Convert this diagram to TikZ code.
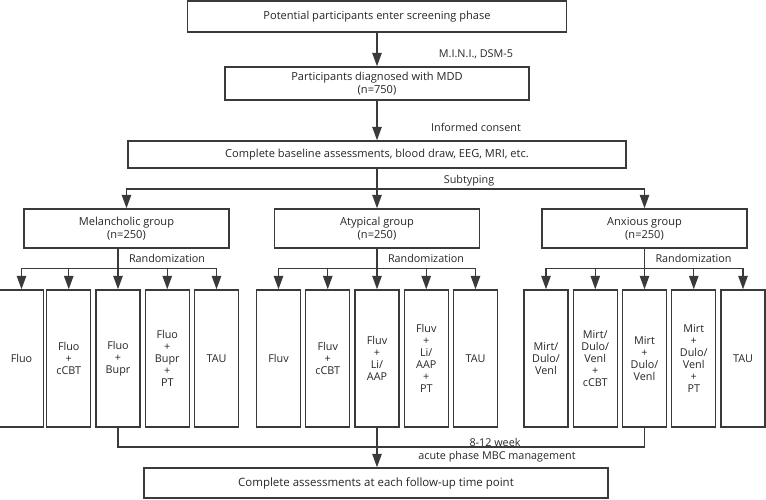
\documentclass[tikz,border=0pt]{standalone}
\usepackage{fontspec}
\setmainfont{Open Sans}
\usetikzlibrary{arrows.meta, positioning, calc}
\definecolor{linegray}{HTML}{3A3A3A}
\tikzstyle{box} = [rectangle, draw=linegray, line width=1.1pt, fill=white, align=center, inner sep=0pt, text=black!85, font=\fontsize{8.3}{9.75}\selectfont]
\tikzstyle{groupbox} = [box, minimum width=153.75pt, minimum height=29.25pt]
\tikzstyle{armbox} = [box, minimum width=33pt, minimum height=102.75pt, font=\fontsize{8.1}{9}\selectfont]
\tikzstyle{link} = [line width=1.1pt, draw=linegray]
\tikzstyle{arrow} = [link, -{Triangle[length=10pt,width=7pt]}]
\tikzstyle{lbl} = [inner sep=0pt, text=black!85, font=\fontsize{8.1}{9}\selectfont]

\begin{document}
\begin{tikzpicture}[x=0.75pt, y=-0.75pt]
\useasboundingbox (0,0) rectangle (766,499);
% main column
\node (screen)[box, minimum width=284pt, minimum height=23.5pt] at (377,16.5) {Potential participants enter screening phase};
\node (mdd)[box, minimum width=228pt, minimum height=24.75pt] at (377,83.5) {Participants diagnosed with MDD\\(n=750)};
\node (base)[box, minimum width=373.5pt, minimum height=20.25pt] at (377,154.5) {Complete baseline assessments, blood draw, EEG, MRI, etc.};
\draw [arrow] (screen) -- (mdd);
\draw [arrow] (mdd) -- (base);
\node (mini)[lbl] at (476,54) {M.I.N.I., DSM-5};
\node (consent)[lbl] at (476,127) {Informed consent};

% subgroups
\node (mel)[groupbox] at (126.5,228.5) {Melancholic group\\(n=250)};
\node (atyp)[groupbox] at (377,228.5) {Atypical group\\(n=250)};
\node (anx)[groupbox] at (644.5,228.5) {Anxious group\\(n=250)};
\coordinate (sub) at (377,189);
\draw [arrow] (base) -- (atyp);
\draw [arrow] (sub) -| (mel);
\draw [arrow] (sub) -| (anx);
\node (subtxt)[lbl] at (469,181) {Subtyping};

% melancholic arms
\node (m1)[armbox] at (21.5,358.5) {Fluo};
\node (m2)[armbox] at (68.75,358.5) {Fluo\\+\\cCBT};
\node (m3)[armbox] at (118,358.5) {Fluo\\+\\Bupr};
\node (m4)[armbox] at (167.25,358.5) {Fluo\\+\\Bupr\\+\\PT};
\node (m5)[armbox] at (216.5,358.5) {TAU};
% atypical arms
\node (a1)[armbox] at (278.5,358.5) {Fluv};
\node (a2)[armbox] at (327.75,358.5) {Fluv\\+\\cCBT};
\node (a3)[armbox] at (377,358.5) {Fluv\\+\\Li/\\AAP};
\node (a4)[armbox] at (426.25,358.5) {Fluv\\+\\Li/\\AAP\\+\\PT};
\node (a5)[armbox] at (475.5,358.5) {TAU};
% anxious arms
\node (x1)[armbox] at (546,358.5) {Mirt/\\Dulo/\\Venl};
\node (x2)[armbox] at (595.25,358.5) {Mirt/\\Dulo/\\Venl\\+\\cCBT};
\node (x3)[armbox] at (644.5,358.5) {Mirt\\+\\Dulo/\\Venl};
\node (x4)[armbox] at (693.75,358.5) {Mirt\\+\\Dulo/\\Venl\\+\\PT};
\node (x5)[armbox] at (743,358.5) {TAU};

% randomization
\foreach \grp/\arm in {mel/m, atyp/a, anx/x} {
  \coordinate (r\arm) at ($(\arm3.north)+(0,-21)$);
  \draw [arrow] (\arm3 |- \grp.south) -- (\arm3);
  \foreach \i in {1,2,4,5}
    \draw [arrow] (r\arm) -| (\arm\i);
  \node [lbl] at ($(r\arm)+(49,-10)$) {Randomization};
}

% follow-up
\node (final)[box, minimum width=348pt, minimum height=22.5pt, font=\fontsize{8.6}{9.75}\selectfont] at (376,483) {Complete assessments at each follow-up time point};
\coordinate (fu) at (377,447);
\draw [link] (m3.south) |- (fu) -| (x3.south);
\draw [arrow] (a3.south) -- (a3.south |- final.north);
\node (week)[lbl] at (495,442) {8-12 week};
\node (acute)[lbl] at (497,456.5) {acute phase MBC management};
\end{tikzpicture}
\end{document}
